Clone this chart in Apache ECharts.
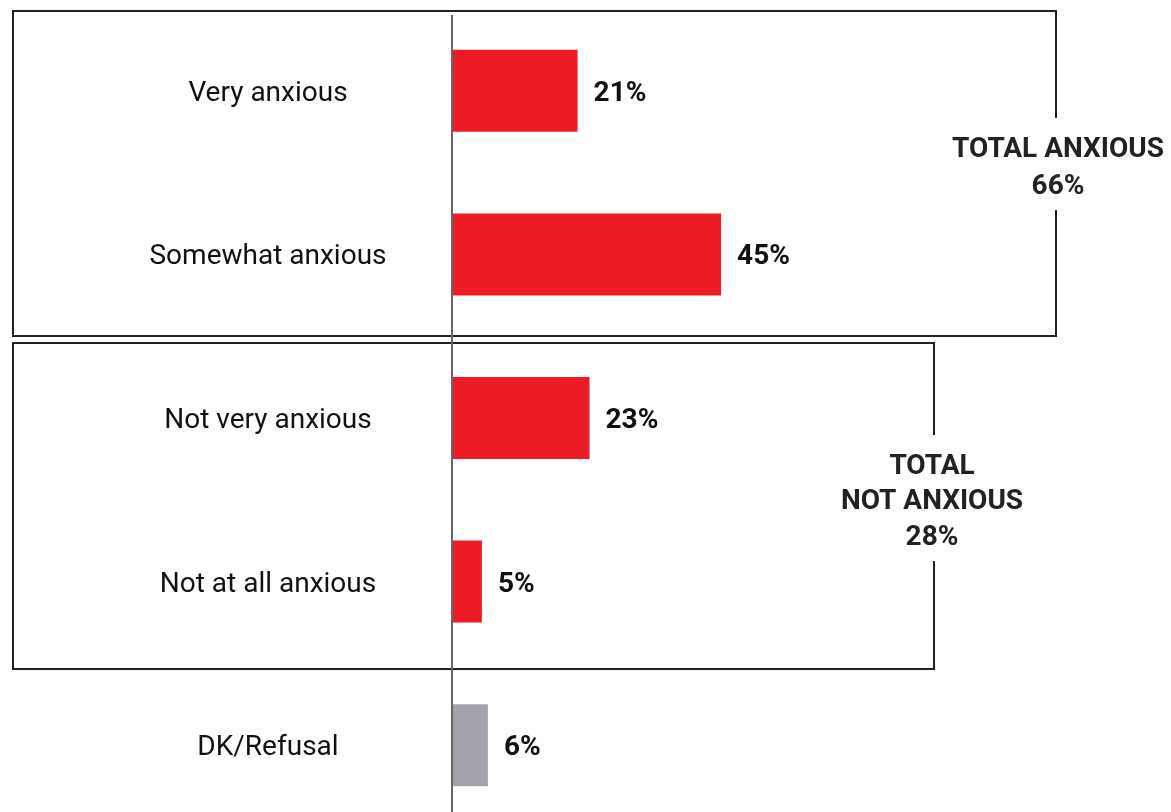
<!DOCTYPE html>
<html>
<head>
<meta charset="utf-8">
<script src="https://cdn.jsdelivr.net/npm/echarts@6/dist/echarts.min.js"></script>
<style>
html,body{margin:0;padding:0;background:#fff;}
#chart{width:1171px;height:812px;}
</style>
</head>
<body>
<div id="chart"></div>
<script>
const categories = ['Very anxious', 'Somewhat anxious', 'Not very anxious', 'Not at all anxious', 'DK/Refusal'];
const values = [21, 45, 23, 5, 6];
const barColors = ['#ED1C24', '#ED1C24', '#ED1C24', '#ED1C24', '#A3A3AB'];
const groupLabels = ['TOTAL ANXIOUS\n66%', 'TOTAL\nNOT ANXIOUS\n28%'];

const chart = echarts.init(document.getElementById('chart'));
const FONT = 'Roboto';
const boxColor = '#222';

chart.setOption({
  animation: false,
  grid: { left: 452, top: 9, width: 598, height: 818, containLabel: false, outerBoundsMode: 'none' },
  xAxis: { type: 'value', min: 0, max: 100, show: false },
  yAxis: {
    type: 'category', data: categories, inverse: true,
    axisLine: { show: false }, axisTick: { show: false }, splitLine: { show: false },
    axisLabel: {
      align: 'center', margin: 184, formatter: '{a|{value}}',
      rich: { a: { padding: [6, 0, 0, 0], fontFamily: FONT, fontSize: 28, color: '#111' } },
      fontFamily: FONT, fontSize: 28, color: '#111'
    }
  },
  series: [{
    type: 'bar',
    data: values.map((v, i) => ({ value: v, itemStyle: { color: barColors[i] } })),
    barWidth: 82,
    label: {
      show: true, position: 'right', distance: 16, offset: [0, 3], formatter: '{c}%',
      fontFamily: FONT, fontWeight: 'bold', fontSize: 28, color: '#111'
    }
  }],
  graphic: [
    { type: 'line', shape: { x1: 452, y1: 15, x2: 452, y2: 812 }, style: { stroke: '#666', lineWidth: 2 }, z: 10 },
    { type: 'polyline', shape: { points: [[1056,118],[1056,11],[13,11],[13,336],[1056,336],[1056,210]] }, style: { stroke: boxColor, lineWidth: 2, fill: null } },
    { type: 'polyline', shape: { points: [[934,435],[934,343],[13,343],[13,669],[934,669],[934,561]] }, style: { stroke: boxColor, lineWidth: 2, fill: null } },
    { type: 'text', x: 1058, y: 168, style: { text: groupLabels[0], align: 'center', verticalAlign: 'middle', font: 'bold 28px ' + FONT, fill: '#222', lineHeight: 37 } },
    { type: 'text', x: 932, y: 502, style: { text: groupLabels[1], align: 'center', verticalAlign: 'middle', font: 'bold 28px ' + FONT, fill: '#222', lineHeight: 35.5 } }
  ]
});
</script>
</body>
</html>
